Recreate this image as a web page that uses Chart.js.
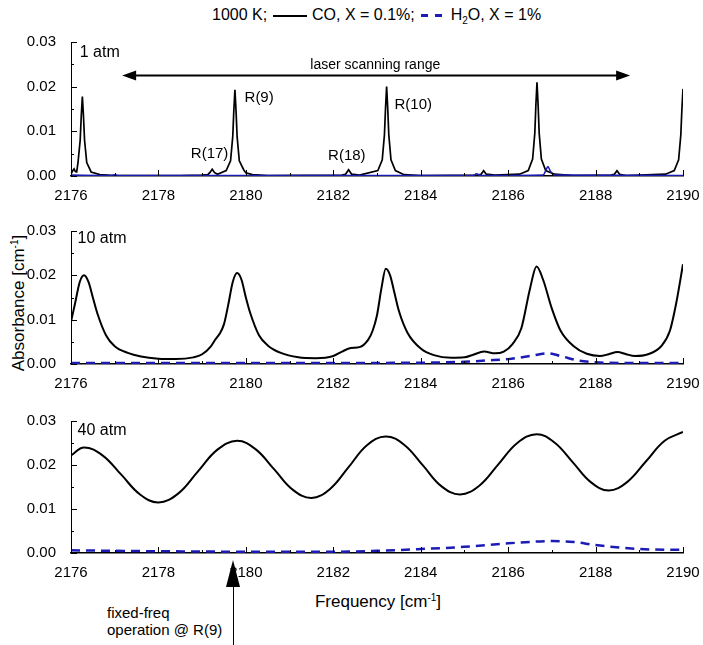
<!DOCTYPE html>
<html>
<head>
<meta charset="utf-8">
<script src="https://cdn.jsdelivr.net/npm/chart.js@4.4.1/dist/chart.umd.min.js"></script>
<style>
  body { margin: 0; background: #fff; }
  #wrap { position: relative; width: 703px; height: 645px; font-family: 'Liberation Sans Narrow', 'Liberation Sans', Arial, sans-serif; color: #000; }
  .abs { position: absolute; }
  canvas { position: absolute; left: 0; }
  .txt { position: absolute; white-space: nowrap; }
</style>
</head>
<body>
<div id="wrap">
  <div class="txt" id="legend" style="left:212px; top:5px; font-size:16px; line-height:20px;">
    1000 K; <span style="display:inline-block;width:34px;height:2px;background:#000;vertical-align:middle;margin:0 1px;"></span> CO, X = 0.1%;
    <span style="display:inline-block;width:7px;height:3px;background:#1c1cb4;vertical-align:middle;margin-left:2px;"></span><span style="display:inline-block;width:7px;height:3px;background:#1c1cb4;vertical-align:middle;margin-left:7px;margin-right:4px;"></span> H<sub style="font-size:10px;">2</sub>O, X = 1%
  </div>
  <div class="txt" style="left:19px; top:303px; font-size:17px; transform: translate(-50%,-50%) rotate(-90deg);">Absorbance [cm<sup style="font-size:10px;">-1</sup>]</div>
  <canvas id="p1" width="703" height="176" style="top:26px"></canvas>
  <canvas id="p2" width="703" height="175" style="top:215px"></canvas>
  <canvas id="p3" width="703" height="174" style="top:405px"></canvas>
  <div class="txt" style="left:378px; top:602px; font-size:17px; transform: translate(-50%,-50%);">Frequency [cm<sup style="font-size:10px;">-1</sup>]</div>
  <div class="txt" style="left:107px; top:604px; font-size:15px; line-height:17px;">fixed-freq<br>operation @ R(9)</div>
  <div class="abs" style="left:233px; top:586px; width:1px; height:59px; background:#000;"></div>
  <div class="abs" style="left:226px; top:560px; width:0; height:0; border-left:7.5px solid transparent; border-right:7.5px solid transparent; border-bottom:27px solid #000;"></div>
</div>
<script>
// axis ticks
const freqTicks = [2176, 2178, 2180, 2182, 2184, 2186, 2188, 2190];
const absTicks = [0.00, 0.01, 0.02, 0.03];

// 1 atm
const co1X = [2176.00, 2176.04, 2176.07, 2176.10, 2176.13, 2176.16, 2176.21, 2176.235, 2176.26, 2176.285, 2176.31, 2176.36, 2176.46, 2176.66, 2177.0, 2178.5, 2179.0,
  2179.13, 2179.18, 2179.23, 2179.28, 2179.35, 2179.55, 2179.65, 2179.70, 2179.725, 2179.75, 2179.775, 2179.80, 2179.85, 2179.95, 2180.0, 2180.15, 2180.5,
  2182.2, 2182.28, 2182.35, 2182.42, 2182.6, 2183.02, 2183.12, 2183.17, 2183.195, 2183.22, 2183.245, 2183.27, 2183.32, 2183.42, 2183.62, 2184.0,
  2185.3, 2185.38, 2185.44, 2185.50, 2185.7, 2186.26, 2186.46, 2186.56, 2186.61, 2186.635, 2186.66, 2186.685, 2186.71, 2186.76, 2186.86, 2187.06, 2187.5,
  2188.35, 2188.43, 2188.49, 2188.55, 2188.7, 2189.6, 2189.8, 2189.9, 2189.95, 2189.975, 2190.0];
const co1Y = [0.0004, 0.0012, 0.0016, 0.0010, 0.0009, 0.0030, 0.0080, 0.0135, 0.0178, 0.0135, 0.0080, 0.0030, 0.0009, 0.0003, 0.0001, 0.0001, 0.0002,
  0.0003, 0.0008, 0.0015, 0.0008, 0.0004, 0.0012, 0.0034, 0.0088, 0.0147, 0.0193, 0.0147, 0.0088, 0.0034, 0.0014, 0.0007, 0.0003, 0.0001,
  0.0002, 0.0004, 0.0014, 0.0004, 0.0002, 0.0012, 0.0036, 0.0092, 0.0152, 0.0200, 0.0152, 0.0092, 0.0036, 0.0012, 0.0003, 0.0001,
  0.0002, 0.0004, 0.0012, 0.0004, 0.0002, 0.0004, 0.0012, 0.0038, 0.0096, 0.0160, 0.0210, 0.0160, 0.0096, 0.0038, 0.0012, 0.0004, 0.0001,
  0.0002, 0.0004, 0.0012, 0.0004, 0.0001, 0.0004, 0.0012, 0.0036, 0.0092, 0.0150, 0.0195];
const h2o1X = [2176.0, 2176.9, 2177.0, 2177.1, 2185.2, 2185.28, 2185.36, 2186.8, 2186.86, 2186.91, 2186.96, 2187.05, 2190.0];
const h2o1Y = [0.0002, 0.0001, 0.0003, 0.0001, 0.0001, 0.0005, 0.0001, 0.0002, 0.0012, 0.0021, 0.0012, 0.0002, 0.0001];

// 10 atm
const co2X = [2176.0, 2176.1, 2176.2, 2176.3, 2176.4, 2176.5, 2176.6, 2176.8, 2177.0, 2177.3, 2177.6, 2178.0, 2178.4, 2178.8, 2179.0, 2179.2, 2179.3, 2179.4, 2179.5, 2179.6, 2179.7, 2179.8, 2179.9, 2180.0, 2180.1, 2180.3, 2180.5, 2180.8, 2181.2, 2181.6,
  2182.0, 2182.2, 2182.4, 2182.6, 2182.8, 2182.9, 2183.0, 2183.1, 2183.2, 2183.3, 2183.4, 2183.5, 2183.7, 2184.0, 2184.3, 2184.7, 2185.0, 2185.2, 2185.45, 2185.7, 2185.9,
  2186.1, 2186.3, 2186.5, 2186.65, 2186.8, 2187.0, 2187.2, 2187.5, 2187.8, 2188.1, 2188.3, 2188.5, 2188.7, 2188.9, 2189.2, 2189.5, 2189.7, 2189.85, 2190.0];
const co2Y = [0.0095, 0.0140, 0.0185, 0.0200, 0.0185, 0.0150, 0.0115, 0.0065, 0.0040, 0.0025, 0.0017, 0.0012, 0.0011, 0.0015, 0.0022, 0.0040, 0.0055, 0.0068, 0.0090, 0.0135, 0.0185, 0.0205, 0.0190, 0.0150, 0.0115, 0.0065, 0.0042, 0.0025, 0.0015, 0.0013,
  0.0018, 0.0028, 0.0036, 0.0038, 0.0055, 0.0075, 0.0110, 0.0170, 0.0215, 0.0200, 0.0160, 0.0120, 0.0070, 0.0035, 0.0020, 0.0014, 0.0015, 0.0021, 0.0028, 0.0024, 0.0028,
  0.0045, 0.0080, 0.0170, 0.0220, 0.0190, 0.0125, 0.0075, 0.0040, 0.0023, 0.0018, 0.0022, 0.0027, 0.0022, 0.0018, 0.0022, 0.0040, 0.0075, 0.0140, 0.0225];
const h2o2X = [2176.0, 2180.0, 2184.0, 2185.0, 2185.5, 2186.0, 2186.5, 2186.9, 2187.2, 2187.6, 2188.0, 2189.0, 2190.0];
const h2o2Y = [0.0002, 0.0002, 0.0003, 0.0005, 0.0008, 0.0011, 0.0018, 0.0024, 0.0018, 0.0008, 0.0004, 0.0002, 0.0002];

// 40 atm
const co3X = [2176.0, 2176.3, 2176.72, 2177.15, 2177.58, 2178.0, 2178.45, 2178.9, 2179.35, 2179.8, 2180.22, 2180.65, 2181.07, 2181.5,
  2181.92, 2182.35, 2182.77, 2183.2, 2183.62, 2184.05, 2184.47, 2184.9, 2185.34, 2185.78, 2186.21, 2186.65,
  2187.06, 2187.48, 2187.89, 2188.3, 2188.72, 2189.15, 2189.58, 2190.0];
const co3Y = [0.0222, 0.0240, 0.0222, 0.0178, 0.0133, 0.0115, 0.0135, 0.0185, 0.0235, 0.0255, 0.0236, 0.0190, 0.0144, 0.0125,
  0.0145, 0.0195, 0.0245, 0.0265, 0.0246, 0.0199, 0.0152, 0.0133, 0.0153, 0.0202, 0.0250, 0.0270,
  0.0251, 0.0206, 0.0161, 0.0142, 0.0161, 0.0208, 0.0255, 0.0275];
const h2o3X = [2176.0, 2178.0, 2180.0, 2182.0, 2183.0, 2184.0, 2185.0, 2186.0, 2187.0, 2187.5, 2188.0, 2189.0, 2190.0];
const h2o3Y = [0.0006, 0.0004, 0.0003, 0.0003, 0.0005, 0.0009, 0.0014, 0.0022, 0.0027, 0.0025, 0.0018, 0.0009, 0.0007];

const FONT = "'Liberation Sans Narrow', 'Liberation Sans', Arial, sans-serif";
const BLUE = '#1c1cb4';

function pts(xs, ys) { return xs.map((x, i) => ({ x: x, y: ys[i] })); }

// inward ticks + in-panel text
const panelDeco = {
  id: 'panelDeco',
  afterDraw(chart, args, opts) {
    const ctx = chart.ctx, xs = chart.scales.x, ys = chart.scales.y;
    const a = chart.chartArea;
    ctx.save();
    ctx.strokeStyle = '#000';
    ctx.lineWidth = 1;
    ctx.beginPath();
    for (let v = 2176; v <= 2190; v++) {
      const px = Math.round(xs.getPixelForValue(v)) + 0.5;
      const len = v % 2 === 0 ? 6 : 3;
      ctx.moveTo(px, a.bottom); ctx.lineTo(px, a.bottom - len);
    }
    for (let k = 0; k <= 6; k++) {
      const py = Math.round(ys.getPixelForValue(k * 0.005)) + 0.5;
      const len = k % 2 === 0 ? 6 : 3;
      ctx.moveTo(a.left, py); ctx.lineTo(a.left + len, py);
    }
    ctx.stroke();
    ctx.fillStyle = '#000';
    ctx.textBaseline = 'middle';
    (opts.labels || []).forEach(l => {
      ctx.font = (l.size || 15) + 'px ' + FONT;
      ctx.textAlign = l.align || 'center';
      ctx.fillText(l.text, xs.getPixelForValue(l.x), ys.getPixelForValue(l.y));
    });
    if (opts.arrow) {
      const r = opts.arrow;
      const x1 = xs.getPixelForValue(r.x1), x2 = xs.getPixelForValue(r.x2), y = Math.round(ys.getPixelForValue(r.y)) + 0.5;
      ctx.lineWidth = 2;
      ctx.beginPath(); ctx.moveTo(x1 + 8, y); ctx.lineTo(x2 - 8, y); ctx.stroke();
      ctx.beginPath(); ctx.moveTo(x1, y); ctx.lineTo(x1 + 14, y - 5); ctx.lineTo(x1 + 14, y + 5); ctx.closePath(); ctx.fill();
      ctx.beginPath(); ctx.moveTo(x2, y); ctx.lineTo(x2 - 14, y - 5); ctx.lineTo(x2 - 14, y + 5); ctx.closePath(); ctx.fill();
    }
    ctx.restore();
  }
};

function makePanel(id, coData, h2oData, topPad, smooth, h2oDash, coWidth, deco) {
  return new Chart(document.getElementById(id), {
    type: 'line',
    data: {
      datasets: [
        { label: 'H2O', data: h2oData, borderColor: BLUE, borderWidth: h2oDash ? 2.5 : 1.5, borderDash: h2oDash ? [9, 6] : [], pointRadius: 0, tension: smooth ? 0.4 : 0, cubicInterpolationMode: 'monotone' },
        { label: 'CO', data: coData, borderColor: '#000', borderWidth: coWidth, pointRadius: 0, tension: smooth === 'cubic' ? 0.4 : 0, cubicInterpolationMode: smooth === 'mono' ? 'monotone' : 'default' }
      ]
    },
    options: {
      responsive: false,
      animation: false,
      events: [],
      layout: { padding: { top: topPad, right: 20, left: 0, bottom: 0 } },
      plugins: { legend: { display: false }, tooltip: { enabled: false }, panelDeco: deco },
      scales: {
        x: {
          type: 'linear', min: 2176, max: 2190,
          afterBuildTicks: s => { s.ticks = freqTicks.map(v => ({ value: v })); },
          afterFit: s => { s.height = 26; },
          grid: { display: false },
          border: { display: true, color: '#000', width: 1.5 },
          ticks: { color: '#000', padding: 3, font: { family: FONT, size: 15 }, callback: v => String(v), maxRotation: 0 }
        },
        y: {
          min: 0, max: 0.03,
          afterBuildTicks: s => { s.ticks = absTicks.map(v => ({ value: v })); },
          afterFit: s => { s.width = 71; },
          grid: { display: false },
          border: { display: true, color: '#000', width: 1 },
          ticks: { color: '#000', padding: 7, font: { family: FONT, size: 15 }, callback: v => v.toFixed(2) }
        }
      }
    },
    plugins: [panelDeco]
  });
}

makePanel('p1', pts(co1X, co1Y), pts(h2o1X, h2o1Y), 10.5, false, false, 1.7, {
  labels: [
    { x: 2176.2, y: 0.0277, text: '1 atm', align: 'left', size: 16 },
    { x: 2179.17, y: 0.0050, text: 'R(17)' },
    { x: 2179.97, y: 0.0174, text: 'R(9)', align: 'left' },
    { x: 2182.31, y: 0.0045, text: 'R(18)' },
    { x: 2183.83, y: 0.0159, text: 'R(10)' },
    { x: 2182.96, y: 0.0249, text: 'laser scanning range', size: 14 }
  ],
  arrow: { x1: 2177.17, x2: 2188.79, y: 0.0226 }
});
makePanel('p2', pts(co2X, co2Y), pts(h2o2X, h2o2Y), 10, 'mono', true, 2, {
  labels: [{ x: 2176.15, y: 0.0282, text: '10 atm', align: 'left', size: 16 }]
});
makePanel('p3', pts(co3X, co3Y), pts(h2o3X, h2o3Y), 10, 'cubic', true, 2, {
  labels: [{ x: 2176.15, y: 0.0278, text: '40 atm', align: 'left', size: 16 }]
});
</script>
</body>
</html>
